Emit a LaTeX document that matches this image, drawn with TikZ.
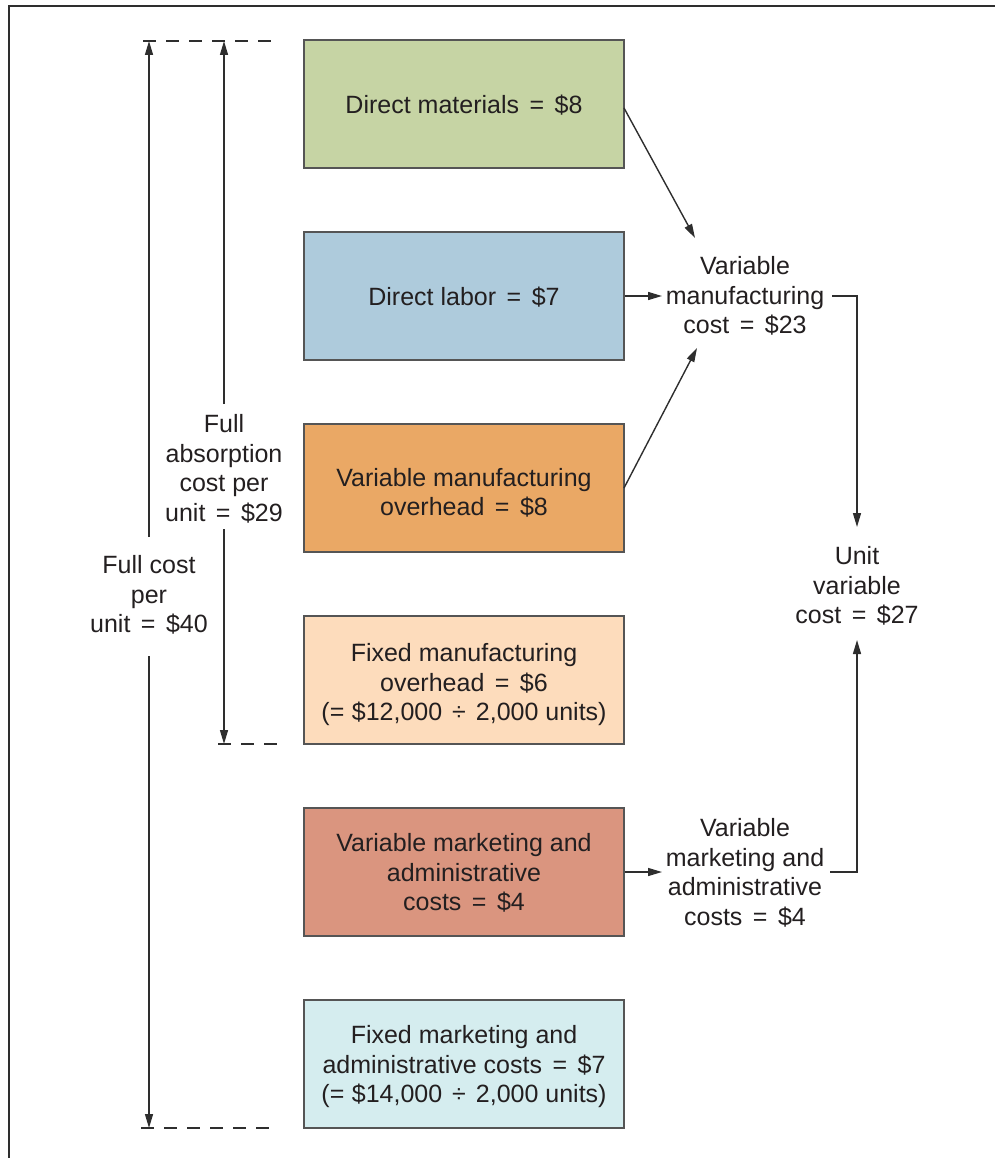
\documentclass[tikz,border=0pt]{standalone}
\usepackage{fontspec}
\setmainfont{Liberation Sans}
\usetikzlibrary{arrows.meta}
\definecolor{txt}{HTML}{231F20}
\definecolor{ln}{HTML}{2E2E2E}
\definecolor{bline}{HTML}{555555}
\definecolor{cA}{HTML}{C6D4A4}
\definecolor{cB}{HTML}{AECBDC}
\definecolor{cC}{HTML}{EAA865}
\definecolor{cD}{HTML}{FDDCBC}
\definecolor{cE}{HTML}{DA957F}
\definecolor{cF}{HTML}{D5EDEF}
\newcommand{\eqs}{\hspace{0.42em}=\hspace{0.42em}}
\newcommand{\dvs}{\hspace{0.4em}÷\hspace{0.4em}}
\tikzset{
  costbox/.style={draw=bline, line width=1.3pt, minimum width=320pt, minimum height=128pt,
    inner sep=0pt},
  lbl/.style={align=center, text=txt, inner sep=0pt, font={\fontsize{25}{29.5}\selectfont}},
  conn/.style={draw=ln, line width=1.4pt},
  arr/.style={conn, -{Triangle[length=14pt,width=8pt]}},
  dsh/.style={draw=ln, line width=1.4pt, dash pattern=on 13pt off 10pt},
}
\begin{document}
\begin{tikzpicture}[x=1pt,y=-1pt]
\useasboundingbox (0,0) rectangle (995,1158);
% frame
\draw[line width=1.8pt, draw=ln] (9,1158) -- (9,6) -- (995,6);

% boxes
\node[costbox, fill=cA] (b1) at (464,104) {};
\node[costbox, fill=cB] (b2) at (464,296) {};
\node[costbox, fill=cC] (b3) at (464,488) {};
\node[costbox, fill=cD] (b4) at (464,680) {};
\node[costbox, fill=cE] (b5) at (464,872) {};
\node[costbox, fill=cF] (b6) at (464,1064) {};

\node[lbl] (t1) at ([yshift=-1pt]b1.center) {Direct materials\eqs\$8};
\node[lbl] (t2) at ([yshift=-1pt]b2.center) {Direct labor\eqs\$7};
\node[lbl] (t3) at ([yshift=-5pt]b3.center) {Variable manufacturing\\overhead\eqs\$8};
\node[lbl] (t4) at ([yshift=-5pt]b4.center) {Fixed manufacturing\\overhead\eqs\$6\\(=\hspace{0.3em}\$12,000\dvs2,000 units)};
\node[lbl] (t5) at ([yshift=-1pt]b5.center) {Variable marketing and\\administrative\\costs\eqs\$4};
\node[lbl] (t6) at ([yshift=-3pt]b6.center) {Fixed marketing and\\administrative costs\eqs\$7\\(=\hspace{0.3em}\$14,000\dvs2,000 units)};

% right labels
\node[lbl] (vmc) at (745,296) {Variable\\manufacturing\\cost\eqs\$23};
\node[lbl] (uvc) at (857,586) {Unit\\variable\\cost\eqs\$27};
\node[lbl] (vma) at (745,873) {Variable\\marketing and\\administrative\\costs\eqs\$4};

% left labels
\node[lbl] (fac) at (224,469) {Full\\absorption\\cost per\\unit\eqs\$29};
\node[lbl] (fc) at (149,595) {Full cost\\per\\unit\eqs\$40};

% coordinates
\coordinate (vmcA) at (695,238);
\coordinate (vmcB) at (662,296);
\coordinate (vmcC) at (697,348);
\coordinate (b3out) at (624,488);
\coordinate (b1out) at (624,108);
\coordinate (vmcR) at (832,296);
\coordinate (vmcCorner) at (857,296);
\coordinate (uvcTop) at (857,527);
\coordinate (uvcBot) at (857,640);
\coordinate (vmaCorner) at (857,872);
\coordinate (vmaR) at (830,872);
\coordinate (vmaL) at (662,872);

\coordinate (tA) at (143,41);
\coordinate (tB) at (280,41);
\coordinate (mA) at (218,744);
\coordinate (mB) at (286,744);
\coordinate (bA) at (141,1128);
\coordinate (bB) at (278,1128);

\coordinate (fcTop) at (149,537);
\coordinate (fcBot) at (149,656);
\coordinate (fcEndT) at (149,41);
\coordinate (fcEndB) at (149,1128);
\coordinate (facTop) at (224,404);
\coordinate (facBot) at (224,529);
\coordinate (facEndT) at (224,41);
\coordinate (facEndB) at (224,744);

% connectors
\draw[arr] (b1out) -- (vmcA);
\draw[arr] (b2.east) -- (vmcB);
\draw[arr] (b3out) -- (vmcC);
\draw[arr] (vmcR) -- (vmcCorner) -- (uvcTop);
\draw[arr] (vmaR) -- (vmaCorner) -- (uvcBot);
\draw[arr] (b5.east) -- (vmaL);

% dimension lines
\draw[dsh] (tA) -- (tB);
\draw[dsh] (mA) -- (mB);
\draw[dsh] (bA) -- (bB);
\draw[arr] (fcTop) -- (fcEndT);
\draw[arr] (fcBot) -- (fcEndB);
\draw[arr] (facTop) -- (facEndT);
\draw[arr] (facBot) -- (facEndB);
\end{tikzpicture}
\end{document}
